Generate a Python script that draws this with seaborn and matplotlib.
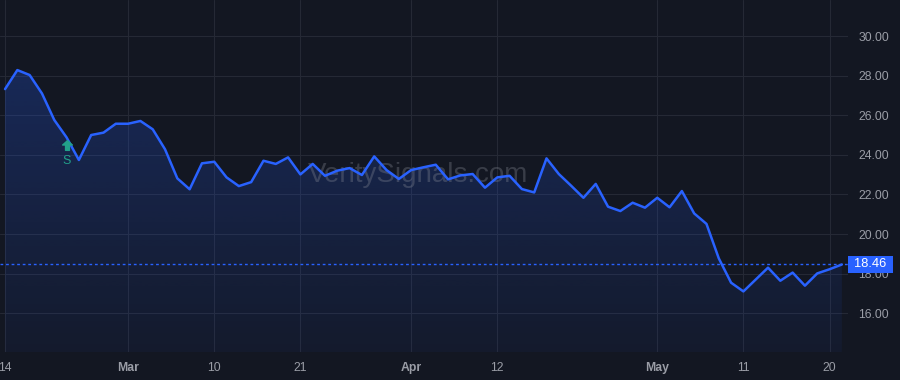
import numpy as np
import pandas as pd
import matplotlib
matplotlib.use("Agg")
import matplotlib.pyplot as plt
import matplotlib.transforms as mtransforms
from matplotlib.patches import Polygon, Rectangle
from matplotlib.path import Path
from matplotlib.colors import to_rgb
import seaborn as sns

# ---------------- data ----------------
values = [27.32, 28.28, 28.03, 27.10, 25.76, 24.88, 23.74, 25.00, 25.12, 25.57,
          25.57, 25.71, 25.29, 24.28, 22.81, 22.26, 23.57, 23.65, 22.86, 22.42,
          22.62, 23.70, 23.54, 23.87, 23.01, 23.54, 22.94, 23.20, 23.33, 22.98,
          23.92, 23.23, 22.78, 23.23, 23.37, 23.50, 22.76, 22.96, 23.03, 22.34,
          22.86, 22.94, 22.27, 22.10, 23.82, 23.03, 22.44, 21.83, 22.53, 21.38,
          21.16, 21.58, 21.33, 21.83, 21.35, 22.17, 21.04, 20.51, 18.77, 17.54,
          17.10, 17.70, 18.30, 17.64, 18.05, 17.39, 18.01, 18.22, 18.46]
tick_positions = [0, 10, 17, 24, 33, 40, 53, 60, 67]
tick_labels = ["14", "Mar", "10", "21", "Apr", "12", "May", "11", "20"]
month_labels = ["Mar", "Apr", "May"]
y_ticks = [16, 18, 20, 22, 24, 26, 28, 30]
last_value = 18.46
signal_index = 5
signal_label = "S"
watermark = "VeritySignals.com"

df = pd.DataFrame({"idx": np.arange(len(values)), "value": values})

# ---------------- style ----------------
BG = "#131722"
GRID = "#252935"
BLUE = "#2962ff"
TXT = "#9a9da6"
GREEN = "#22a08a"

sns.set_theme(style="dark")
plt.rcParams["font.family"] = ["Liberation Sans", "DejaVu Sans"]

W, H = 900, 380
fig = plt.figure(figsize=(W / 100, H / 100), dpi=100, facecolor=BG)
ax_w, ax_h = 848, 352
ax = fig.add_axes([0, (H - ax_h) / H, ax_w / W, ax_h / H])
ax.set_facecolor(BG)

# gradient area fill
ymin, ymax = 14.04, 31.82
xmin, xmax = -0.41, 68.5
x = df["idx"].to_numpy()
y = df["value"].to_numpy()
verts = [(x[0], ymin)] + list(zip(x, y)) + [(x[-1], ymin)]
poly = Polygon(verts, facecolor="none", edgecolor="none")
ax.add_patch(poly)
n = 256
rgba = np.zeros((n, 1, 4))
rgba[..., :3] = to_rgb(BLUE)
rgba[..., 3] = np.linspace(0.24, 0.05, n)[:, None]
im = ax.imshow(rgba, extent=[x[0], x[-1], ymin, y.max()], origin="upper",
               aspect="auto", zorder=1, interpolation="bilinear")
im.set_clip_path(poly)

# watermark
ax.text(0.493, 0.503, watermark, transform=ax.transAxes, ha="center", va="center",
        fontsize=20, color="#8a8e99", alpha=0.32, zorder=1.5,
        family=["Liberation Sans", "DejaVu Sans"])

# line
sns.lineplot(data=df, x="idx", y="value", ax=ax, color=BLUE, linewidth=1.8,
             zorder=3, legend=False)

# last value dotted line
ax.axhline(last_value, color=BLUE, linestyle=(0, (2, 2)), linewidth=1.0, zorder=2)

# signal marker
arrow = Path([(0, 1), (1, 0.1), (0.4, 0.1), (0.4, -1), (-0.4, -1), (-0.4, 0.1),
              (-1, 0.1), (0, 1)],
             [Path.MOVETO] + [Path.LINETO] * 6 + [Path.CLOSEPOLY])
sx, sy = signal_index, values[signal_index]
ax.plot([sx], [sy], marker=arrow, markersize=7, color=GREEN, linestyle="none",
        transform=mtransforms.offset_copy(ax.transData, fig, y=-8, units="dots"),
        zorder=4)
ax.text(sx, sy, signal_label, color=GREEN, fontsize=9, ha="center", va="center",
        transform=mtransforms.offset_copy(ax.transData, fig, y=-24, units="dots"),
        zorder=4)

# axes
ax.set_xlim(xmin, xmax)
ax.set_ylim(ymin, ymax)
ax.set_xticks(tick_positions)
ax.set_xticklabels(tick_labels)
for lab in ax.get_xticklabels():
    if lab.get_text() in month_labels:
        lab.set_fontweight("bold")
ax.set_yticks(y_ticks)
ax.set_yticklabels([f"{v:.2f}" for v in y_ticks])
ax.yaxis.tick_right()
ax.tick_params(axis="x", length=0, pad=7, labelsize=8.8, colors=TXT)
ax.tick_params(axis="y", length=0, pad=7.5, labelsize=8.8, colors=TXT)
ax.grid(True, color=GRID, linewidth=0.8)
ax.set_axisbelow(True)
ax.set_xlabel("")
ax.set_ylabel("")
for s in ax.spines.values():
    s.set_visible(False)

# last value label box
blend = mtransforms.blended_transform_factory(fig.transFigure, ax.transData)
px = (ymax - ymin) / ax_h
box = Rectangle((848 / W, last_value - 8.5 * px), 45 / W, 17 * px,
                transform=blend, facecolor=BLUE, edgecolor="none",
                clip_on=False, zorder=6)
ax.add_patch(box)
ax.text(870.5 / W, last_value, f"{last_value:.2f}", transform=blend, color="white",
        fontsize=9.3, ha="center", va="center", zorder=7, clip_on=False)

fig.savefig("out.png", dpi=100, facecolor=BG)
